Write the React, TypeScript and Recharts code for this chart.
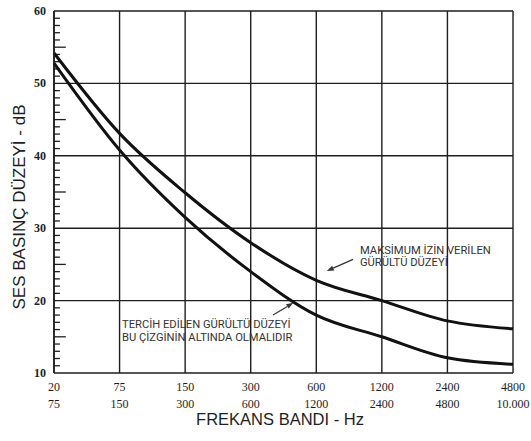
import React from "react";
import {
  LineChart,
  Line,
  XAxis,
  YAxis,
  CartesianGrid,
  ReferenceLine,
  Customized,
} from "recharts";

// band edges, top row / bottom row of the x labels
const bandFrom = ["20", "75", "150", "300", "600", "1200", "2400", "4800"];
const bandTo = ["75", "150", "300", "600", "1200", "2400", "4800", "10.000"];

// dB values
const maxLevel = [54.2, 43.1, 34.9, 28, 22.8, 20, 17.2, 16.1];
const preferredLevel = [52.8, 40.8, 31.5, 24, 18, 15, 12.1, 11.2];

const yMajor = [10, 20, 30, 40, 50, 60];
const yMinor = Array.from({ length: 51 }, (_, i) => 10 + i).filter((v) => v % 10 !== 0);
const xTicks = bandFrom.map((_, i) => i);

const data = bandFrom.map((b, i) => ({
  idx: i,
  max: maxLevel[i],
  pref: preferredLevel[i],
}));

const INK = "#1e1e1e";
const SERIF = "'Liberation Serif', 'DejaVu Serif', serif";
const SANS = "'Liberation Sans', Arial, sans-serif";
const NOTE = "Roboto, 'Liberation Sans', sans-serif";

const XTick = (props: any) => {
  const { x, y, payload } = props;
  const i = payload.value;
  return (
    <text x={x} y={y} textAnchor="middle" fontFamily={SERIF} fontSize={12} fill={INK}>
      <tspan x={x} dy={18}>{bandFrom[i]}</tspan>
      <tspan x={x} dy={17}>{bandTo[i]}</tspan>
    </text>
  );
};

const YTick = (props: any) => {
  const { x, y, payload } = props;
  return (
    <text x={x - 8} y={y + 4} textAnchor="end" fontFamily={SERIF} fontSize={12} fontWeight="bold" fill={INK}>
      {payload.value}
    </text>
  );
};

const Arrow = (p: any) => {
  const { x1, y1, x2, y2 } = p;
  const a = Math.atan2(y2 - y1, x2 - x1);
  const L = 7;
  const W = 2.6;
  const bx = x2 - L * Math.cos(a);
  const by = y2 - L * Math.sin(a);
  const nx = -Math.sin(a) * W;
  const ny = Math.cos(a) * W;
  return (
    <g>
      <line x1={x1} y1={y1} x2={bx} y2={by} stroke="#333" strokeWidth={1.2} />
      <polygon points={`${x2},${y2} ${bx + nx},${by + ny} ${bx - nx},${by - ny}`} fill="#333" />
    </g>
  );
};

const Titles = () => (
  <g>
    <text x={280} y={425} textAnchor="middle" fontFamily={SANS} fontSize={16.5} fill={INK}>
      FREKANS BANDI - Hz
    </text>
    <text
      x={25}
      y={207}
      textAnchor="middle"
      fontFamily={SANS}
      fontSize={17}
      fill={INK}
      transform="rotate(-90 25 207)"
    >
      SES BASINÇ DÜZEYİ - dB
    </text>
    <text fontFamily={NOTE} fontSize={11.2} fill="#333">
      <tspan x={360} y={254}>MAKSİMUM İZİN VERİLEN</tspan>
      <tspan x={360} y={266}>GÜRÜLTÜ DÜZEYİ</tspan>
    </text>
    <text fontFamily={NOTE} fontSize={11.2} fill="#333">
      <tspan x={122} y={328}>TERCİH EDİLEN GÜRÜLTÜ DÜZEYİ</tspan>
      <tspan x={122} y={341}>BU ÇİZGİNİN ALTINDA OLMALIDIR</tspan>
    </text>
  </g>
);

export default function App() {
  return (
    <div style={{ position: "absolute", left: 0, top: 0, width: 531, height: 441, background: "#fff" }}>
      <LineChart width={531} height={441} data={data} margin={{ top: 11, right: 18, bottom: 0, left: 0 }}>
        <CartesianGrid horizontal={false} stroke={INK} strokeWidth={1.4} />
        {yMajor.slice(1).map((v) => (
          <ReferenceLine key={v} y={v} stroke={INK} strokeWidth={1.4} />
        ))}
        {/* comb of minor ticks along the inside of the y axis */}
        {yMinor.map((v) => (
          <ReferenceLine
            key={"m" + v}
            segment={[{ x: 0, y: v }, { x: v % 5 === 0 ? 0.18 : 0.09, y: v }]}
            stroke={INK}
            strokeWidth={1.3}
          />
        ))}
        <XAxis
          dataKey="idx"
          type="number"
          domain={[0, 7]}
          ticks={xTicks}
          interval={0}
          height={68}
          tickSize={0}
          tickMargin={0}
          tickLine={false}
          axisLine={{ stroke: INK, strokeWidth: 1.6 }}
          tick={<XTick />}
        />
        <YAxis
          type="number"
          domain={[10, 60]}
          ticks={yMajor}
          interval={0}
          width={54}
          tickSize={0}
          tickMargin={0}
          tickLine={false}
          axisLine={{ stroke: INK, strokeWidth: 1.6 }}
          tick={<YTick />}
        />
        <Line
          type="monotone"
          dataKey="max"
          stroke="#111"
          strokeWidth={3}
          dot={false}
          isAnimationActive={false}
        />
        <Line
          type="monotone"
          dataKey="pref"
          stroke="#111"
          strokeWidth={3}
          dot={false}
          isAnimationActive={false}
        />
        <ReferenceLine
          segment={[{ x: 4.56, y: 25.7 }, { x: 4.16, y: 24.1 }]}
          shape={<Arrow />}
        />
        <ReferenceLine
          segment={[{ x: 3.34, y: 18.0 }, { x: 3.65, y: 19.7 }]}
          shape={<Arrow />}
        />
        <Customized component={<Titles />} />
      </LineChart>
    </div>
  );
}
